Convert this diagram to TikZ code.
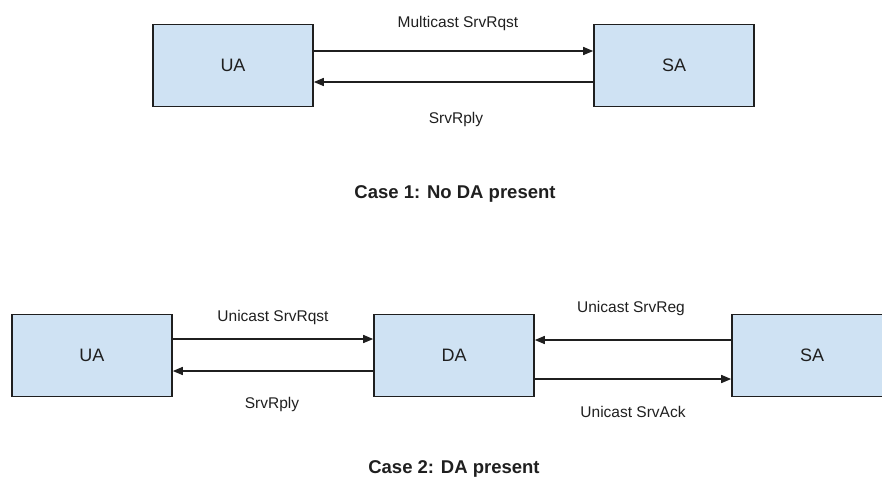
\documentclass[tikz,border=0pt]{standalone}
\usepackage{fontspec}
\setmainfont{Liberation Sans}
\usetikzlibrary{arrows.meta}
\definecolor{boxfill}{HTML}{CFE2F3}
\definecolor{ink}{HTML}{1F1F1F}
\begin{document}
\begin{tikzpicture}[x=1pt,y=-1pt,
  agent/.style={draw=ink, line width=1.6pt, fill=boxfill, inner sep=0pt,
    minimum width=160pt, minimum height=82pt, text=ink,
    font=\fontsize{18}{20}\selectfont},
  msg/.style={draw=ink, line width=1.5pt, -{Triangle[length=10pt,width=8pt]}},
  lbl/.style={anchor=base, inner sep=0pt, text=ink, font=\fontsize{15.5}{17}\selectfont},
  caption/.style={anchor=base, inner sep=0pt, text=ink, font=\bfseries\fontsize{18.5}{20}\selectfont}]
\useasboundingbox (0,0) rectangle (882,480);
\clip (0,0) rectangle (882,480);

% Case 1: UA talks to SA directly
\node[agent] (ua1) at (233,65.5) {UA};
\node[agent] (sa1) at (674,65.5) {SA};
\draw[msg] (ua1.east |- 0,51) -- (sa1.west |- 0,51);
\draw[msg] (sa1.west |- 0,82) -- (ua1.east |- 0,82);
\node[lbl] (m1) at (458,27) {Multicast SrvRqst};
\node[lbl] (r1) at (456,123) {SrvRply};
\node[caption] (c1) at (455,198) {Case 1: No DA present};

% Case 2: the DA sits between UA and SA
\node[agent] (ua2) at (92,355.5) {UA};
\node[agent] (da2) at (454,355.5) {DA};
\node[agent] (sa2) at (812,355.5) {SA};
\draw[msg] (ua2.east |- 0,339) -- (da2.west |- 0,339);
\draw[msg] (da2.west |- 0,371) -- (ua2.east |- 0,371);
\draw[msg] (sa2.west |- 0,340) -- (da2.east |- 0,340);
\draw[msg] (da2.east |- 0,379) -- (sa2.west |- 0,379);
\node[lbl] (m2) at (273,321) {Unicast SrvRqst};
\node[lbl] (r2) at (272,408) {SrvRply};
\node[lbl] (g2) at (631,312) {Unicast SrvReg};
\node[lbl] (k2) at (633,417) {Unicast SrvAck};
\node[caption] (c2) at (454,473) {Case 2: DA present};
\end{tikzpicture}
\end{document}
